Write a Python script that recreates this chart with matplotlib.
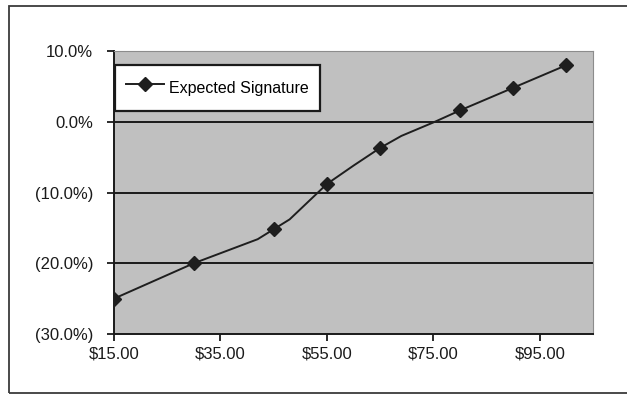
import matplotlib
matplotlib.use("Agg")
import matplotlib.pyplot as plt
from matplotlib.patches import Rectangle
from matplotlib.ticker import FuncFormatter

plt.rcParams['font.family'] = ['Liberation Sans', 'DejaVu Sans']

# price points with markers, and return in percent
price = [15, 30, 45, 55, 65, 80, 90, 100]
ret = [-25.0, -20.0, -15.2, -8.8, -3.7, 1.6, 4.8, 8.0]

# the drawn line passes through some extra (unmarked) points
line_price = [15, 30, 42, 45, 48, 55, 60, 65, 69, 75, 80, 90, 100]
line_ret = [-25.0, -20.0, -16.6, -15.2, -13.8, -8.8, -6.2, -3.7, -2.0, -0.1, 1.6, 4.8, 8.0]

x_ticks = [15, 35, 55, 75, 95]
y_ticks = [-30, -20, -10, 0, 10]


def pct_label(v, pos):
    if v < 0:
        return f"({-v:.1f}%)"
    return f"{v:.1f}%"


fig = plt.figure(figsize=(6.27, 3.94), dpi=100)
ax = fig.add_axes([114 / 627, 1 - 334 / 394, 479 / 627, 283 / 394])
ax.set_facecolor('#c0c0c0')

# outer chart frame
fig.patches.append(Rectangle((9 / 627, 1 - 393 / 394), 1.0, (393 - 6) / 394,
                             transform=fig.transFigure, fill=False,
                             edgecolor='#3a3a3a', linewidth=1.3))

for y in [-20, -10, 0]:
    ax.axhline(y, color='#1a1a1a', linewidth=1.4, zorder=1)

ax.plot(line_price, line_ret, color='#1e1e1e', linewidth=1.4, zorder=3)
ax.plot(price, ret, linestyle='none', marker='D', markersize=7,
        color='#1e1e1e', zorder=4)
# proxy for the legend
ax.plot([], [], color='#1e1e1e', linewidth=1.4, marker='D', markersize=7,
        label='Expected Signature')

ax.set_xlim(15, 105)
ax.set_ylim(-30, 10)
ax.set_xticks(x_ticks)
ax.set_yticks(y_ticks)
ax.xaxis.set_major_formatter(FuncFormatter(lambda v, p: f"${v:.2f}"))
ax.yaxis.set_major_formatter(FuncFormatter(pct_label))
ax.tick_params(axis='both', direction='out', length=5, width=1.3,
               color='#1a1a1a', labelsize=12, labelcolor='#1a1a1a')
ax.tick_params(axis='y', pad=10)
ax.tick_params(axis='x', pad=4)

ax.spines['left'].set_color('#1a1a1a')
ax.spines['bottom'].set_color('#1a1a1a')
ax.spines['left'].set_linewidth(1.4)
ax.spines['bottom'].set_linewidth(1.4)
ax.spines['top'].set_color('#8c8c8c')
ax.spines['right'].set_color('#8c8c8c')

leg = ax.legend(loc='upper left', bbox_to_anchor=(0.0015, 0.9516),
                borderaxespad=0, fancybox=False, framealpha=1,
                fontsize=11.5, borderpad=0.7, handlelength=2.4,
                handleheight=1.9, handletextpad=0.3)
leg.get_frame().set_edgecolor('#1a1a1a')
leg.get_frame().set_linewidth(1.6)

fig.savefig('out.png', dpi=100)
